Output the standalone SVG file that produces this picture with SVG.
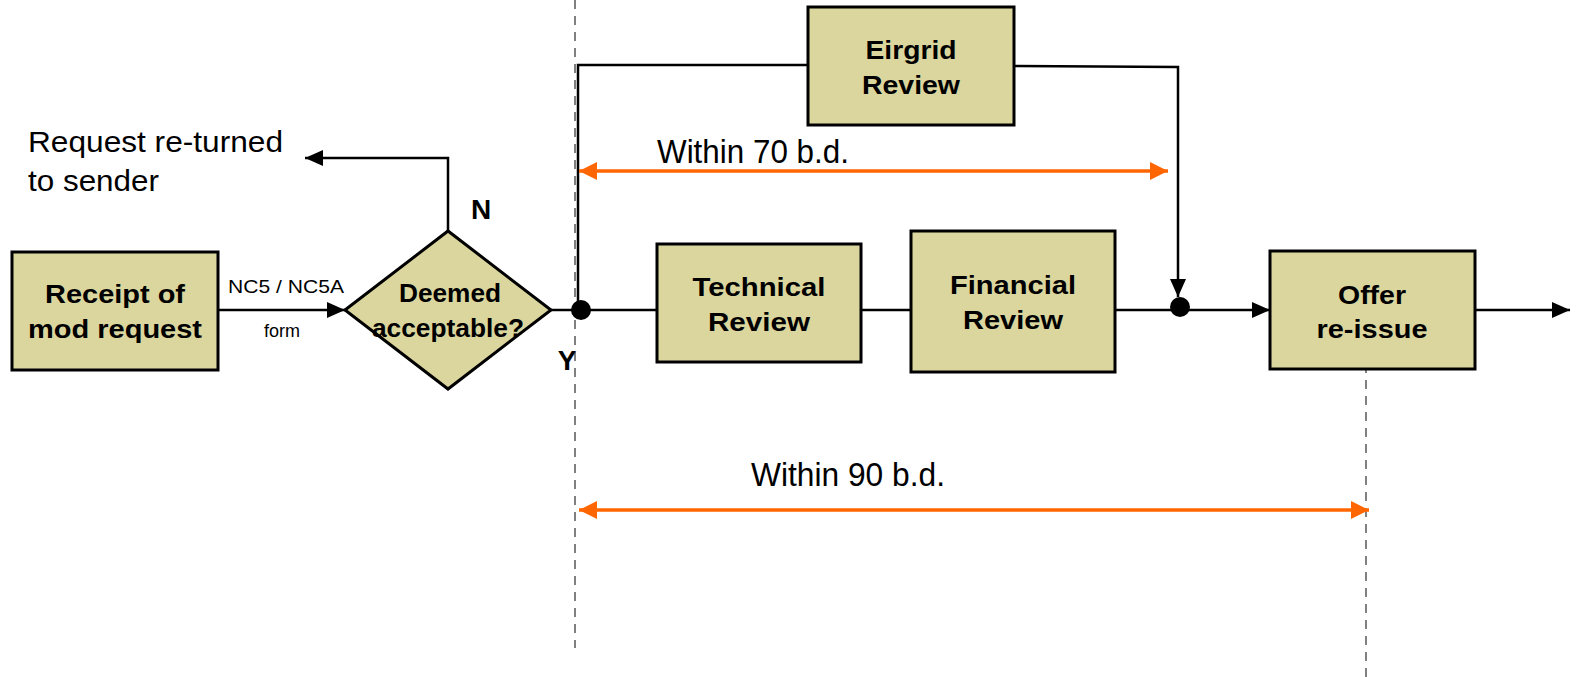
<svg xmlns="http://www.w3.org/2000/svg" width="1580" height="677" viewBox="0 0 1580 677">
<style>
.box{fill:#DBD69D;stroke:#000;stroke-width:3}
.bl{font-family:"Liberation Sans",Arial,sans-serif;font-weight:bold;font-size:25px;fill:#000;text-anchor:middle}
.tx{font-family:"Liberation Sans",Arial,sans-serif;fill:#000}
.ln{fill:none;stroke:#000;stroke-width:2.5}
.or{fill:none;stroke:#FF6600;stroke-width:3.5}
.dash{fill:none;stroke:#808080;stroke-width:2;stroke-dasharray:9,7}
</style>
<defs>
<marker id="ah" viewBox="0 0 18 16" refX="18" refY="8" markerWidth="18" markerHeight="16" markerUnits="userSpaceOnUse" orient="auto">
<path d="M0,0 L18,8 L0,16 z" fill="#000"/>
</marker>
<marker id="oh" viewBox="0 0 18 18" refX="18" refY="9" markerWidth="18" markerHeight="18" markerUnits="userSpaceOnUse" orient="auto-start-reverse">
<path d="M0,0 L18,9 L0,18 z" fill="#FF6600"/>
</marker>
</defs>
<rect width="1580" height="677" fill="#fff"/>
<g id="guides">
<line class="dash" x1="575" y1="0" x2="575" y2="648"/>
<line class="dash" x1="1366" y1="364" x2="1366" y2="677"/>
</g>
<g id="connectors">
<line class="ln" x1="218" y1="310" x2="345" y2="310" marker-end="url(#ah)"/>
<polyline class="ln" points="448,231 448,158 305,158" marker-end="url(#ah)"/>
<line class="ln" x1="551" y1="310" x2="657" y2="310"/>
<polyline class="ln" points="578,310 578,65 808,65"/>
<polyline class="ln" points="1014,66 1178,67 1178,297" marker-end="url(#ah)"/>
<line class="ln" x1="861" y1="310" x2="911" y2="310"/>
<line class="ln" x1="1115" y1="310" x2="1270" y2="310" marker-end="url(#ah)"/>
<line class="ln" x1="1475" y1="310" x2="1570" y2="310" marker-end="url(#ah)"/>
<circle cx="581" cy="310" r="10" fill="#000"/>
<circle cx="1180" cy="307" r="10" fill="#000"/>
<line class="or" x1="579" y1="171" x2="1168" y2="171" marker-start="url(#oh)" marker-end="url(#oh)"/>
<line class="or" x1="579" y1="510" x2="1369" y2="510" marker-start="url(#oh)" marker-end="url(#oh)"/>
<text class="tx" x="286" y="293" font-size="18" text-anchor="middle" textLength="116" lengthAdjust="spacingAndGlyphs">NC5 / NC5A</text>
<text class="tx" x="282" y="337" font-size="18" text-anchor="middle">form</text>
<text class="tx" font-weight="bold" x="481" y="219" font-size="28" text-anchor="middle">N</text>
<text class="tx" font-weight="bold" x="567" y="370" font-size="28" text-anchor="middle">Y</text>
<text class="tx" x="28" y="152" font-size="30" textLength="255" lengthAdjust="spacingAndGlyphs">Request re-turned</text>
<text class="tx" x="28" y="191" font-size="30" textLength="131" lengthAdjust="spacingAndGlyphs">to sender</text>
<text class="tx" x="657" y="163" font-size="33" textLength="192" lengthAdjust="spacingAndGlyphs">Within 70 b.d.</text>
<text class="tx" x="751" y="486" font-size="33" textLength="194" lengthAdjust="spacingAndGlyphs">Within 90 b.d.</text>
</g>
<g id="receipt">
<rect class="box" x="12" y="252" width="206" height="118"/>
<text class="bl" x="115" y="303" textLength="140" lengthAdjust="spacingAndGlyphs">Receipt of</text>
<text class="bl" x="115" y="338" textLength="174" lengthAdjust="spacingAndGlyphs">mod request</text>
</g>
<g id="deemed">
<polygon class="box" points="345,310 448,231 551,310 448,389"/>
<text class="bl" x="450" y="302" textLength="102" lengthAdjust="spacingAndGlyphs">Deemed</text>
<text class="bl" x="448" y="337" textLength="152" lengthAdjust="spacingAndGlyphs">acceptable?</text>
</g>
<g id="eirgrid">
<rect class="box" x="808" y="7" width="206" height="118"/>
<text class="bl" x="911" y="59" textLength="91" lengthAdjust="spacingAndGlyphs">Eirgrid</text>
<text class="bl" x="911" y="94" textLength="98" lengthAdjust="spacingAndGlyphs">Review</text>
</g>
<g id="technical">
<rect class="box" x="657" y="244" width="204" height="118"/>
<text class="bl" x="759" y="296" textLength="133" lengthAdjust="spacingAndGlyphs">Technical</text>
<text class="bl" x="759" y="331" textLength="102" lengthAdjust="spacingAndGlyphs">Review</text>
</g>
<g id="financial">
<rect class="box" x="911" y="231" width="204" height="141"/>
<text class="bl" x="1013" y="294" textLength="126" lengthAdjust="spacingAndGlyphs">Financial</text>
<text class="bl" x="1013" y="329" textLength="100" lengthAdjust="spacingAndGlyphs">Review</text>
</g>
<g id="offer">
<rect class="box" x="1270" y="251" width="205" height="118"/>
<text class="bl" x="1372" y="304" textLength="68" lengthAdjust="spacingAndGlyphs">Offer</text>
<text class="bl" x="1372" y="338" textLength="111" lengthAdjust="spacingAndGlyphs">re-issue</text>
</g>
</svg>
